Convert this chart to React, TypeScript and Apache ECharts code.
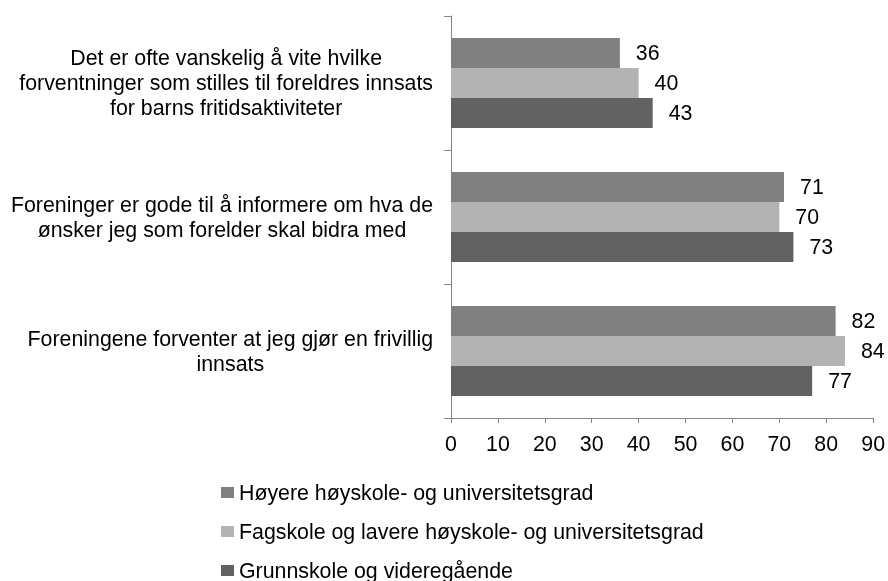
import React, { useEffect, useRef } from "react";
import * as echarts from "echarts";

const categories = [
  "Foreningene forventer at jeg gjør en frivillig\ninnsats",
  "Foreninger er gode til å informere om hva de\nønsker jeg som forelder skal bidra med",
  "Det er ofte vanskelig å vite hvilke\nforventninger som stilles til foreldres innsats\nfor barns fritidsaktiviteter",
];

const seriesNames = [
  "Høyere høyskole- og universitetsgrad",
  "Fagskole og lavere høyskole- og universitetsgrad",
  "Grunnskole og videregående",
];

const hoyereValues = [82, 71, 36];
const fagskoleValues = [84, 70, 40];
const grunnskoleValues = [77, 73, 43];

const seriesColors = ["#808080", "#b3b3b3", "#626262"];

const FONT = "'Liberation Sans', Arial, sans-serif";
const FS = 21.33;

export default function App() {
  const ref = useRef<HTMLDivElement>(null);
  useEffect(() => {
    if (!ref.current) return;
    const chart = echarts.init(ref.current, null, { renderer: "svg" });
    const values = [hoyereValues, fagskoleValues, grunnskoleValues];
    chart.setOption({
      animation: false,
      textStyle: { fontFamily: FONT },
      grid: { left: 451, right: 14, top: 16, bottom: 163, containLabel: false },
      legend: {
        orient: "vertical",
        left: 216,
        top: 477,
        height: 200,
        itemWidth: 13,
        itemHeight: 11,
        itemGap: 18,
        icon: "rect",
        data: seriesNames,
        textStyle: { fontSize: FS, lineHeight: 18, color: "#000", fontFamily: FONT },
      },
      xAxis: {
        type: "value",
        min: 0,
        max: 90,
        interval: 10,
        splitLine: { show: false },
        axisLine: { show: true, lineStyle: { color: "#868686", width: 1 } },
        axisTick: { show: true, length: 5, lineStyle: { color: "#868686" } },
        axisLabel: { fontSize: FS, color: "#000", margin: 15, fontFamily: FONT },
      },
      yAxis: {
        type: "category",
        data: categories,
        axisLine: { show: true, lineStyle: { color: "#868686", width: 1 } },
        axisTick: { show: true, length: 7, lineStyle: { color: "#868686" } },
        axisLabel: {
          margin: 18,
          align: "right",
          formatter: (v: string) =>
            v
              .split("\n")
              .map((l) => `{a|${l}}`)
              .join("\n"),
          rich: {
            a: { align: "center", fontSize: FS, lineHeight: 25, color: "#000", fontFamily: FONT },
          },
        },
      },
      series: seriesNames.map((name, i) => ({
        name,
        type: "bar",
        data: values[i],
        barGap: "0%",
        barCategoryGap: "33%",
        itemStyle: { color: seriesColors[i] },
        label: {
          show: true,
          position: "right",
          distance: 16,
          fontSize: FS,
          color: "#000",
          fontFamily: FONT,
        },
      })),
    });
    return () => chart.dispose();
  }, []);
  return (
    <div
      ref={ref}
      style={{ position: "fixed", left: 0, top: 0, width: 888, height: 581 }}
    />
  );
}
